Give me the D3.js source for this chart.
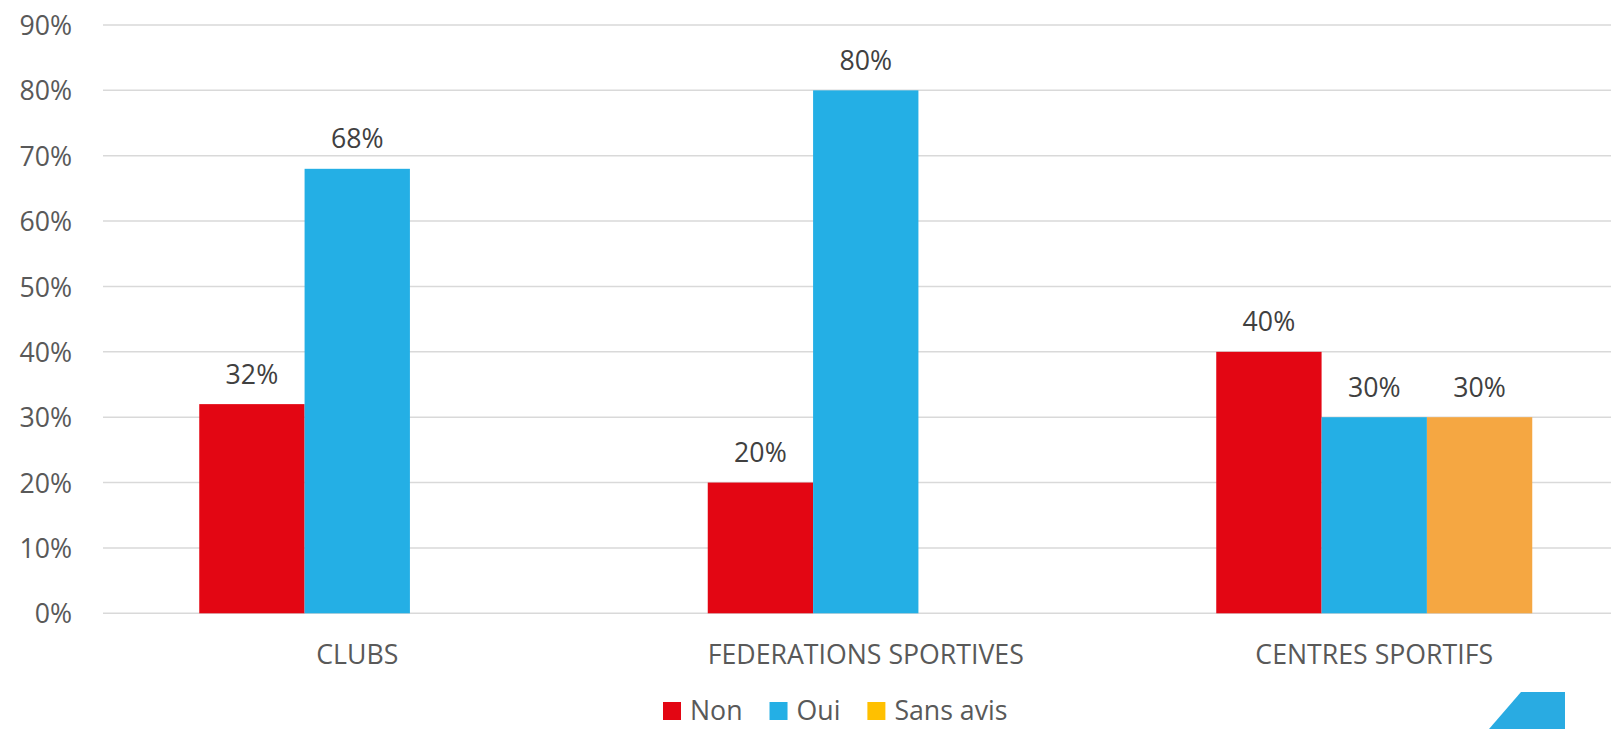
<!DOCTYPE html>
<html>
<head>
<meta charset="utf-8">
<script src="https://cdn.jsdelivr.net/npm/d3@7"></script>
<style>
  html, body { margin: 0; padding: 0; background: #ffffff; }
  svg { display: block; }
  text { font-family: "Open Sans", "Noto Sans", sans-serif; }
</style>
</head>
<body>
<svg id="chart" width="1611" height="729"></svg>
<script>
// ---- Data ----
const categories = ["CLUBS", "FEDERATIONS SPORTIVES", "CENTRES SPORTIFS"];
const seriesNames = ["Non", "Oui", "Sans avis"];
const nonValues = [0.32, 0.20, 0.40];
const ouiValues = [0.68, 0.80, 0.30];
const sansAvisValues = [null, null, 0.30];
const yTicks = [0, 0.1, 0.2, 0.3, 0.4, 0.5, 0.6, 0.7, 0.8, 0.9];
const barColors = ["#E30613", "#24AFE5", "#F5A742"];
const legendColors = ["#E30613", "#24AFE5", "#FFC000"];

const seriesValues = [nonValues, ouiValues, sansAvisValues];

// ---- Layout ----
const W = 1611, H = 729;
const plotLeft = 103, groupStep = 508.5;
const plotRight = plotLeft + groupStep * categories.length;
const yBottom = 613.3, yTop = 25;
const gap = 192.5;
const fontSize = 26.7;

const svg = d3.select("#chart");

const x0 = d3.scaleBand().domain(categories).range([plotLeft, plotRight]).padding(0);
const x1 = d3.scaleBand().domain(seriesNames).range([gap / 2, groupStep - gap / 2]).padding(0);
const y = d3.scaleLinear().domain([0, 0.9]).range([yBottom, yTop]);

// gridlines
svg.append("g").selectAll("line").data(yTicks).join("line")
  .attr("x1", plotLeft).attr("x2", plotRight)
  .attr("y1", d => y(d)).attr("y2", d => y(d))
  .attr("stroke", "#D9D9D9").attr("stroke-width", 1.5);

// y axis labels
const yAxis = d3.axisLeft(y).tickValues(yTicks).tickFormat(d3.format(".0%")).tickSize(0).tickPadding(0);
const yg = svg.append("g").attr("transform", `translate(72,0)`).call(yAxis);
yg.select(".domain").remove();
yg.selectAll("text")
  .attr("font-family", "'Open Sans', sans-serif")
  .attr("font-size", fontSize)
  .attr("fill", "#595959")
  .attr("dy", "0.36em");

// bars
const flat = [];
categories.forEach((c, i) => {
  seriesNames.forEach((s, j) => {
    const v = seriesValues[j][i];
    if (v !== null && v !== undefined) flat.push({ cat: c, series: s, value: v, color: barColors[j] });
  });
});

svg.append("g").selectAll("rect").data(flat).join("rect")
  .attr("x", d => x0(d.cat) + x1(d.series))
  .attr("width", x1.bandwidth())
  .attr("y", d => y(d.value))
  .attr("height", d => y(0) - y(d.value))
  .attr("fill", d => d.color);

// value labels
svg.append("g").selectAll("text").data(flat).join("text")
  .attr("x", d => x0(d.cat) + x1(d.series) + x1.bandwidth() / 2)
  .attr("y", d => y(d.value) - 20.5)
  .attr("text-anchor", "middle")
  .attr("font-size", fontSize)
  .attr("fill", "#404040")
  .text(d => d3.format(".0%")(d.value));

// category labels
const xAxis = d3.axisBottom(x0).tickSize(0).tickPadding(0);
const xg = svg.append("g").attr("transform", `translate(0,${yBottom})`).call(xAxis);
xg.select(".domain").remove();
xg.selectAll("text")
  .attr("font-family", "'Open Sans', sans-serif")
  .attr("font-size", fontSize)
  .attr("fill", "#595959")
  .attr("dy", null)
  .attr("y", 664 - yBottom);

// legend
const legend = svg.append("g").attr("transform", "translate(663,0)");
let lx = 0;
seriesNames.forEach((s, j) => {
  legend.append("rect").attr("x", lx).attr("y", 702).attr("width", 18).attr("height", 18)
    .attr("fill", legendColors[j]);
  const t = legend.append("text").attr("x", lx + 27).attr("y", 720)
    .attr("font-size", fontSize).attr("fill", "#595959").text(s);
  lx += 27 + t.node().getComputedTextLength() + 27;
});

// decorative corner shape
svg.append("path")
  .attr("d", "M1489,729 L1521,692 L1565,692 L1565,729 Z")
  .attr("fill", "#29ABE2");
</script>
</body>
</html>
